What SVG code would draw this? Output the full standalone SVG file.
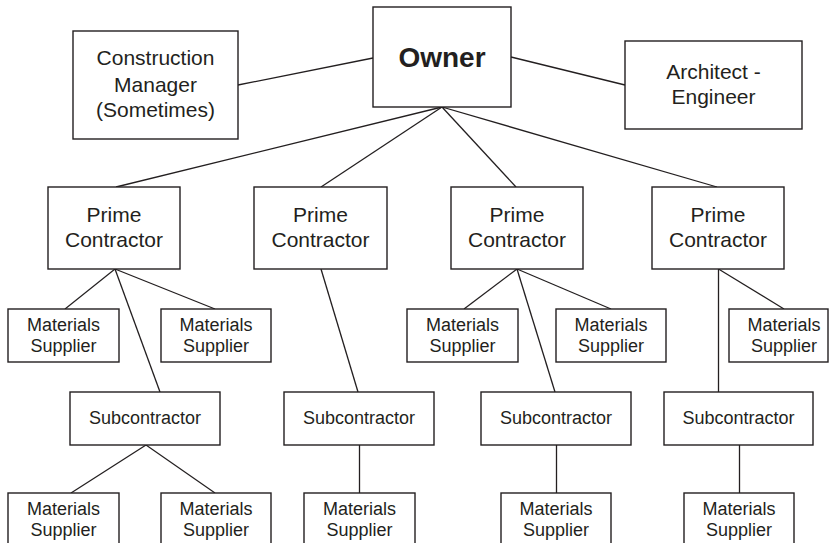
<svg xmlns="http://www.w3.org/2000/svg" width="829" height="543" viewBox="0 0 829 543">
<style>
rect{fill:#fff;stroke:#231f20;stroke-width:1.4}
#connectors line{stroke:#231f20;stroke-width:1.3}
text{font-family:"Liberation Sans",Arial,sans-serif;fill:#231f20;text-anchor:middle}
.l{font-size:21px}
.m{font-size:18px}
.o{font-size:28px;font-weight:bold}
</style>
<rect x="0" y="0" width="829" height="543" style="stroke:none"/>
<g id="connectors">
<line x1="238" y1="85" x2="373" y2="58"/>
<line x1="511" y1="57" x2="625" y2="85"/>
<line x1="442" y1="107" x2="116" y2="187"/>
<line x1="442" y1="107" x2="321" y2="187"/>
<line x1="442" y1="107" x2="516" y2="187"/>
<line x1="442" y1="107" x2="717" y2="187"/>
<line x1="115" y1="269" x2="65" y2="309"/>
<line x1="115" y1="269" x2="215" y2="309"/>
<line x1="115" y1="269" x2="160" y2="392"/>
<line x1="321" y1="269" x2="358" y2="392"/>
<line x1="517" y1="269" x2="464" y2="309"/>
<line x1="517" y1="269" x2="611" y2="309"/>
<line x1="517" y1="269" x2="555" y2="392"/>
<line x1="718.5" y1="269" x2="784" y2="309"/>
<line x1="718.5" y1="269" x2="718.5" y2="392"/>
<line x1="146" y1="445" x2="71" y2="493"/>
<line x1="146" y1="445" x2="215" y2="493"/>
<line x1="359.5" y1="445" x2="359.5" y2="493"/>
<line x1="556.5" y1="445" x2="556.5" y2="493"/>
<line x1="739.5" y1="445" x2="739.5" y2="493"/>
</g>
<g id="owner"><rect x="373" y="7" width="138" height="100"/><text class="o" x="442" y="67">Owner</text></g>
<g id="cm"><rect x="73" y="31" width="165" height="108"/><text class="l" x="155.5" y="65">Construction</text><text class="l" x="155.5" y="91.5">Manager</text><text class="l" x="155.5" y="117">(Sometimes)</text></g>
<g id="ae"><rect x="625" y="41" width="177" height="88"/><text class="l" x="713.5" y="79">Architect -</text><text class="l" x="713.5" y="104">Engineer</text></g>
<g id="pc1"><rect x="48" y="187" width="132" height="82"/><text class="l" x="114" y="222">Prime</text><text class="l" x="114" y="247">Contractor</text></g>
<g id="pc2"><rect x="254" y="187" width="133" height="82"/><text class="l" x="320.5" y="222">Prime</text><text class="l" x="320.5" y="247">Contractor</text></g>
<g id="pc3"><rect x="451" y="187" width="132" height="82"/><text class="l" x="517" y="222">Prime</text><text class="l" x="517" y="247">Contractor</text></g>
<g id="pc4"><rect x="652" y="187" width="132" height="82"/><text class="l" x="718" y="222">Prime</text><text class="l" x="718" y="247">Contractor</text></g>
<g id="ms1"><rect x="8" y="309" width="111" height="53"/><text class="m" x="63.5" y="331">Materials</text><text class="m" x="63.5" y="352">Supplier</text></g>
<g id="ms2"><rect x="161" y="309" width="110" height="53"/><text class="m" x="216" y="331">Materials</text><text class="m" x="216" y="352">Supplier</text></g>
<g id="ms3"><rect x="407" y="309" width="111" height="53"/><text class="m" x="462.5" y="331">Materials</text><text class="m" x="462.5" y="352">Supplier</text></g>
<g id="ms4"><rect x="556" y="309" width="110" height="53"/><text class="m" x="611" y="331">Materials</text><text class="m" x="611" y="352">Supplier</text></g>
<g id="ms5"><rect x="729" y="309" width="99" height="53"/><text class="m" x="784" y="331">Materials</text><text class="m" x="784" y="352">Supplier</text></g>
<g id="sub1"><rect x="70" y="392" width="150" height="53"/><text class="m" x="145" y="424">Subcontractor</text></g>
<g id="sub2"><rect x="284" y="392" width="150" height="53"/><text class="m" x="359" y="424">Subcontractor</text></g>
<g id="sub3"><rect x="481" y="392" width="150" height="53"/><text class="m" x="556" y="424">Subcontractor</text></g>
<g id="sub4"><rect x="664" y="392" width="149" height="53"/><text class="m" x="738.5" y="424">Subcontractor</text></g>
<g id="bm1"><rect x="8" y="493" width="111" height="56"/><text class="m" x="63.5" y="515">Materials</text><text class="m" x="63.5" y="536">Supplier</text></g>
<g id="bm2"><rect x="161" y="493" width="110" height="56"/><text class="m" x="216" y="515">Materials</text><text class="m" x="216" y="536">Supplier</text></g>
<g id="bm3"><rect x="304" y="493" width="111" height="56"/><text class="m" x="359.5" y="515">Materials</text><text class="m" x="359.5" y="536">Supplier</text></g>
<g id="bm4"><rect x="501" y="493" width="110" height="56"/><text class="m" x="556" y="515">Materials</text><text class="m" x="556" y="536">Supplier</text></g>
<g id="bm5"><rect x="684" y="493" width="110" height="56"/><text class="m" x="739" y="515">Materials</text><text class="m" x="739" y="536">Supplier</text></g>
</svg>
